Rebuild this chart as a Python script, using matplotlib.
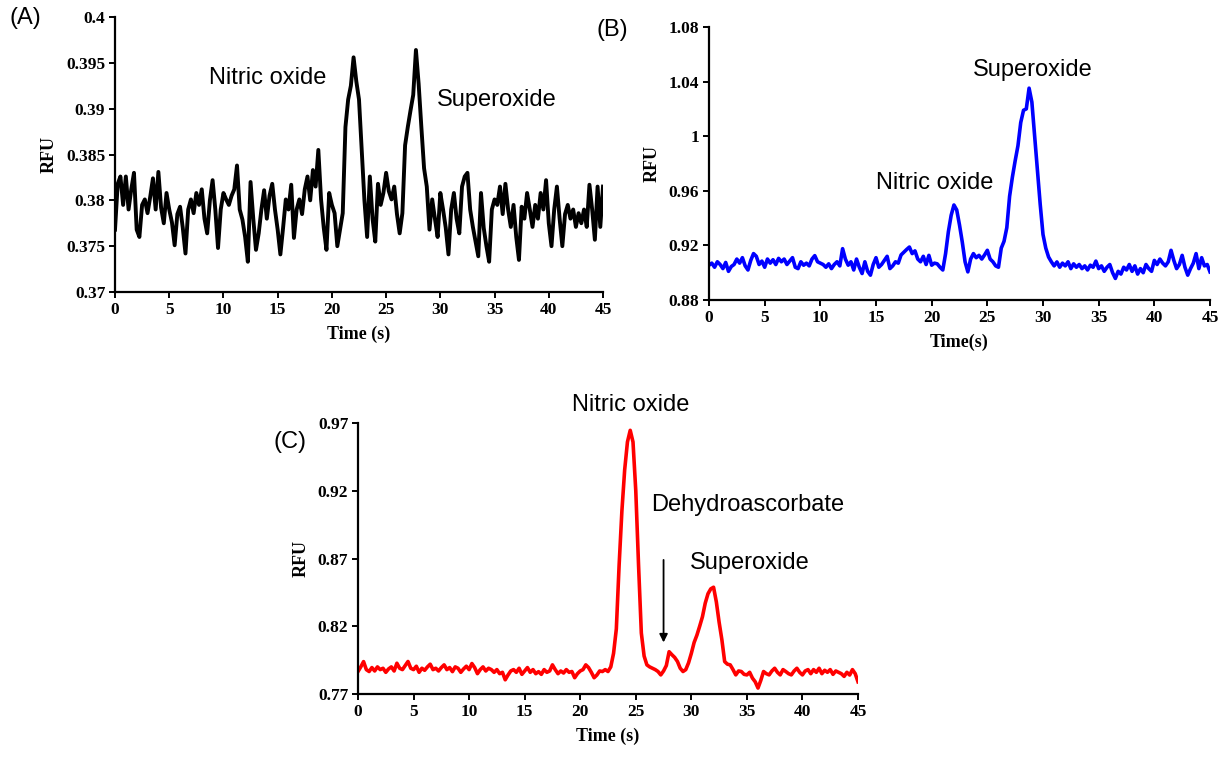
import numpy as np
import matplotlib
matplotlib.use("Agg")
import matplotlib.pyplot as plt
from matplotlib.ticker import FuncFormatter

# sampling grid shared by all three electropherograms (s)
time_s = np.arange(0, 45.001, 0.25)

# (A) black trace
rfu_a = [
    0.3768, 0.3818, 0.3826, 0.3795, 0.3826, 0.3790, 0.3812, 0.3830, 0.3768, 0.3760,
    0.3795, 0.3801, 0.3786, 0.3804, 0.3824, 0.3790, 0.3831, 0.3792, 0.3775, 0.3808,
    0.3790, 0.3776, 0.3751, 0.3785, 0.3793, 0.3770, 0.3742, 0.3790, 0.3801, 0.3786,
    0.3808, 0.3795, 0.3812, 0.3780, 0.3764, 0.3800, 0.3822, 0.3790, 0.3748, 0.3790,
    0.3808, 0.3801, 0.3795, 0.3805, 0.3812, 0.3838, 0.3790, 0.3779, 0.3760, 0.3733,
    0.3820, 0.3780, 0.3746, 0.3764, 0.3790, 0.3811, 0.3780, 0.3805, 0.3818, 0.3790,
    0.3768, 0.3741, 0.3770, 0.3801, 0.3790, 0.3817, 0.3759, 0.3790, 0.3801, 0.3785,
    0.3812, 0.3826, 0.3800, 0.3833, 0.3815, 0.3855, 0.3801, 0.3770, 0.3746, 0.3808,
    0.3795, 0.3786, 0.3750, 0.3768, 0.3786, 0.3880, 0.3910, 0.3925, 0.3956, 0.3930,
    0.3910, 0.3855, 0.3800, 0.3760, 0.3826, 0.3780, 0.3755, 0.3818, 0.3795, 0.3808,
    0.3830, 0.3810, 0.3801, 0.3815, 0.3785, 0.3764, 0.3786, 0.3860, 0.3880, 0.3898,
    0.3915, 0.3964, 0.3927, 0.3880, 0.3835, 0.3815, 0.3768, 0.3801, 0.3780, 0.3760,
    0.3808, 0.3790, 0.3770, 0.3741, 0.3790, 0.3808, 0.3780, 0.3764, 0.3815, 0.3826,
    0.3830, 0.3790, 0.3771, 0.3755, 0.3739, 0.3808, 0.3770, 0.3750, 0.3733, 0.3790,
    0.3801, 0.3795, 0.3815, 0.3785, 0.3818, 0.3790, 0.3771, 0.3795, 0.3760, 0.3735,
    0.3793, 0.3780, 0.3808, 0.3790, 0.3771, 0.3795, 0.3780, 0.3808, 0.3790, 0.3822,
    0.3775, 0.3750, 0.3790, 0.3815, 0.3780, 0.3750, 0.3785, 0.3795, 0.3780, 0.3790,
    0.3771, 0.3786, 0.3775, 0.3790, 0.3771, 0.3817, 0.3790, 0.3757, 0.3815, 0.3771,
    0.3815,
]

# (B) blue trace
rfu_b = [
    0.9055, 0.9070, 0.9040, 0.9080, 0.9060, 0.9030, 0.9075, 0.9010, 0.9045, 0.9060,
    0.9100, 0.9070, 0.9110, 0.9050, 0.9020, 0.9090, 0.9140, 0.9120, 0.9060, 0.9085,
    0.9040, 0.9100, 0.9070, 0.9095, 0.9060, 0.9105, 0.9080, 0.9100, 0.9060, 0.9085,
    0.9110, 0.9040, 0.9030, 0.9080, 0.9055, 0.9070, 0.9050, 0.9100, 0.9125, 0.9080,
    0.9070, 0.9060, 0.9040, 0.9065, 0.9030, 0.9060, 0.9080, 0.9050, 0.9176, 0.9100,
    0.9055, 0.9080, 0.9020, 0.9100, 0.9040, 0.8994, 0.9080, 0.9010, 0.8982, 0.9060,
    0.9110, 0.9040, 0.9060, 0.9090, 0.9120, 0.9030, 0.9050, 0.9080, 0.9070, 0.9130,
    0.9150, 0.9170, 0.9188, 0.9140, 0.9160, 0.9100, 0.9080, 0.9120, 0.9060, 0.9127,
    0.9055, 0.9070, 0.9065, 0.9040, 0.9020, 0.9140, 0.9300, 0.9420, 0.9496, 0.9460,
    0.9350, 0.9224, 0.9080, 0.9006, 0.9100, 0.9140, 0.9110, 0.9127, 0.9100, 0.9130,
    0.9164, 0.9100, 0.9080, 0.9050, 0.9040, 0.9180, 0.9230, 0.9330, 0.9560, 0.9700,
    0.9820, 0.9930, 1.0100, 1.0190, 1.0200, 1.0352, 1.0250, 1.0000, 0.9750, 0.9500,
    0.9280, 0.9180, 0.9115, 0.9080, 0.9050, 0.9079, 0.9040, 0.9070, 0.9050, 0.9080,
    0.9030, 0.9065, 0.9040, 0.9060, 0.9030, 0.9050, 0.9020, 0.9055, 0.9040, 0.9085,
    0.9030, 0.9050, 0.9010, 0.9040, 0.9060, 0.9000, 0.8958, 0.9010, 0.8990, 0.9040,
    0.9020, 0.9060, 0.9010, 0.9050, 0.8990, 0.9030, 0.9000, 0.9060, 0.9030, 0.9010,
    0.9090, 0.9060, 0.9100, 0.9070, 0.9050, 0.9080, 0.9164, 0.9090, 0.9030, 0.9060,
    0.9127, 0.9040, 0.8982, 0.9030, 0.9070, 0.9140, 0.9030, 0.9110, 0.9050, 0.9060,
    0.9006,
]

# (C) red trace
rfu_c = [
    0.7866, 0.7900, 0.7939, 0.7880, 0.7866, 0.7895, 0.7870, 0.7900, 0.7880, 0.7890,
    0.7860, 0.7885, 0.7900, 0.7870, 0.7927, 0.7890, 0.7880, 0.7910, 0.7940, 0.7890,
    0.7880, 0.7905, 0.7860, 0.7890, 0.7875, 0.7900, 0.7920, 0.7880, 0.7890, 0.7870,
    0.7895, 0.7915, 0.7880, 0.7895, 0.7865, 0.7900, 0.7890, 0.7860, 0.7885, 0.7905,
    0.7880, 0.7925, 0.7895, 0.7850, 0.7880, 0.7900, 0.7870, 0.7890, 0.7880, 0.7860,
    0.7880, 0.7850, 0.7860, 0.7805, 0.7840, 0.7870, 0.7880, 0.7860, 0.7890, 0.7845,
    0.7870, 0.7895, 0.7860, 0.7880, 0.7850, 0.7865, 0.7845, 0.7880, 0.7860, 0.7870,
    0.7915, 0.7880, 0.7850, 0.7870, 0.7855, 0.7880, 0.7860, 0.7866, 0.7820, 0.7850,
    0.7870, 0.7880, 0.7915, 0.7895, 0.7860, 0.7820, 0.7840, 0.7870, 0.7866, 0.7880,
    0.7866, 0.7900, 0.8000, 0.8180, 0.8650, 0.9050, 0.9354, 0.9560, 0.9646, 0.9560,
    0.9200, 0.8650, 0.8150, 0.7980, 0.7915, 0.7900, 0.7890, 0.7880, 0.7866, 0.7841,
    0.7870, 0.7910, 0.8012, 0.7990, 0.7970, 0.7940, 0.7890, 0.7866, 0.7880, 0.7930,
    0.8000, 0.8080, 0.8134, 0.8200, 0.8270, 0.8370, 0.8440, 0.8476, 0.8488, 0.8380,
    0.8230, 0.8100, 0.7939, 0.7920, 0.7915, 0.7880, 0.7841, 0.7870, 0.7866, 0.7845,
    0.7841, 0.7860, 0.7817, 0.7790, 0.7744, 0.7800, 0.7866, 0.7850, 0.7841, 0.7870,
    0.7890, 0.7860, 0.7841, 0.7880, 0.7866, 0.7850, 0.7841, 0.7870, 0.7890, 0.7860,
    0.7841, 0.7870, 0.7880, 0.7850, 0.7880, 0.7860, 0.7890, 0.7850, 0.7875, 0.7860,
    0.7880, 0.7845, 0.7870, 0.7860, 0.7850, 0.7830, 0.7860, 0.7840, 0.7880, 0.7850,
    0.7790,
]

x_ticks = [0, 5, 10, 15, 20, 25, 30, 35, 40, 45]
y_ticks_a = [0.37, 0.375, 0.38, 0.385, 0.39, 0.395, 0.4]
y_ticks_b = [0.88, 0.92, 0.96, 1.0, 1.04, 1.08]
y_ticks_c = [0.77, 0.82, 0.87, 0.92, 0.97]

serif = "Liberation Serif"
sans = "Liberation Sans"


def fmt_tick(v, pos):
    return "%g" % round(v, 4)


def style_axes(ax, yticks, xlabel):
    ax.set_xlim(0, 45)
    ax.set_ylim(yticks[0], yticks[-1])
    ax.set_xticks(x_ticks)
    ax.set_yticks(yticks)
    ax.yaxis.set_major_formatter(FuncFormatter(fmt_tick))
    for side in ("top", "right"):
        ax.spines[side].set_visible(False)
    for side in ("left", "bottom"):
        ax.spines[side].set_linewidth(1.6)
    ax.tick_params(direction="out", length=4, width=1.4, pad=3)
    for lab in ax.get_xticklabels() + ax.get_yticklabels():
        lab.set_fontfamily(serif)
        lab.set_fontweight("bold")
        lab.set_fontsize(12.5)
    ax.set_xlabel(xlabel, fontfamily=serif, fontweight="bold", fontsize=13, labelpad=6)
    ax.set_ylabel("RFU", fontfamily=serif, fontweight="bold", fontsize=13, labelpad=6)


fig = plt.figure(figsize=(12.31, 7.57), dpi=100)
W, H = 1231, 757


def add_axes_px(left, top, right, bottom):
    return fig.add_axes([left / W, 1 - bottom / H, (right - left) / W, (bottom - top) / H])


label_kw = dict(family=sans, fontsize=17, ha="center", va="center")

# panel A
ax_a = add_axes_px(115, 17, 603, 292)
ax_a.plot(time_s, rfu_a, color="black", lw=2.8, solid_joinstyle="round")
style_axes(ax_a, y_ticks_a, "Time (s)")
ax_a.text(14.1, 0.3933, "Nitric oxide", **label_kw)
ax_a.text(35.2, 0.3910, "Superoxide", **label_kw)
fig.text(25 / W, 1 - 18 / H, "(A)", **label_kw)

# panel B
ax_b = add_axes_px(709, 27, 1210, 300)
ax_b.plot(time_s, rfu_b, color="#0000FF", lw=2.6, solid_joinstyle="round")
style_axes(ax_b, y_ticks_b, "Time(s)")
ax_b.text(29.1, 1.0485, "Superoxide", **label_kw)
ax_b.text(20.3, 0.9657, "Nitric oxide", **label_kw)
fig.text(612 / W, 1 - 30 / H, "(B)", **label_kw)

# panel C
ax_c = add_axes_px(358, 423, 858, 694)
ax_c.plot(time_s, rfu_c, color="#FF0000", lw=2.6, solid_joinstyle="round")
style_axes(ax_c, y_ticks_c, "Time (s)")
ax_c.text(24.5, 0.9833, "Nitric oxide", clip_on=False, **label_kw)
ax_c.text(35.1, 0.9095, "Dehydroascorbate", **label_kw)
ax_c.text(35.3, 0.8667, "Superoxide", **label_kw)
ax_c.annotate("", xy=(27.5, 0.806), xytext=(27.5, 0.871),
              arrowprops=dict(arrowstyle="-|>", color="black", lw=1.3, mutation_scale=12))
fig.text(290 / W, 1 - 442 / H, "(C)", **label_kw)

fig.savefig("out.png", dpi=100, facecolor="white")
